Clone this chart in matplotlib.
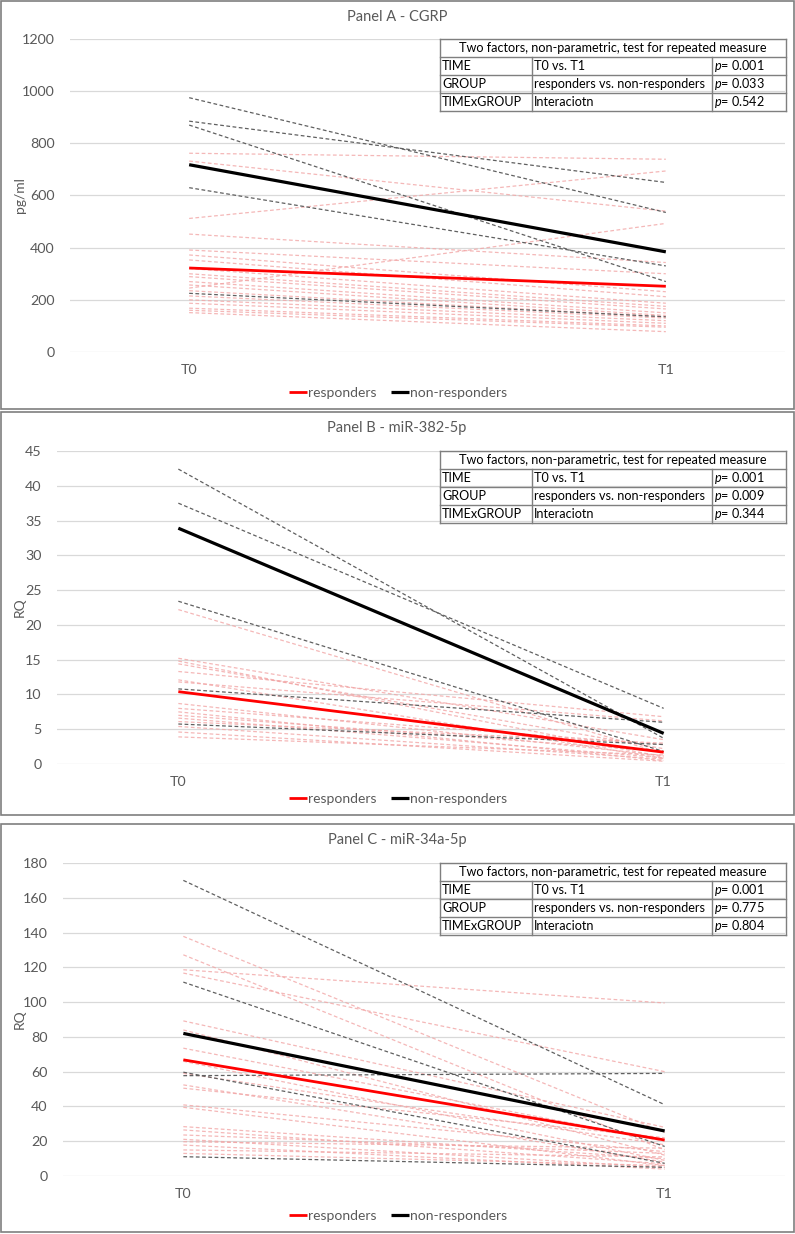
import matplotlib
matplotlib.use("Agg")
import matplotlib.pyplot as plt
from matplotlib.patches import Rectangle
from matplotlib.lines import Line2D

plt.rcParams['font.family'] = ['Lato', 'DejaVu Sans']
plt.rcParams['mathtext.fontset'] = 'custom'
plt.rcParams['mathtext.it'] = 'Lato:italic'
plt.rcParams['mathtext.rm'] = 'Lato'

W, H = 795, 1234
TIMES = ["T0", "T1"]

# ---- Panel A - CGRP (pg/ml)
a_resp_t0 = [762, 732, 512, 245, 452, 391, 372, 353, 320, 300, 289, 270, 257, 235, 215, 200, 187, 168, 160, 151]
a_resp_t1 = [739, 540, 694, 493, 343, 300, 231, 212, 187, 175, 165, 150, 140, 135, 130, 120, 110, 100, 95, 78]
a_non_t0 = [975, 885, 870, 630, 225]
a_non_t1 = [535, 650, 270, 330, 135]
a_resp_mean = [322, 252]
a_non_mean = [718, 384]
a_pvals = ["0.001", "0.033", "0.542"]

# ---- Panel B - miR-382-5p (RQ)
b_resp_t0 = [22.2, 15.2, 14.8, 14.4, 13.3, 12.1, 11.8, 8.7, 8.0, 7.5, 7.0, 6.6, 6.1, 5.4, 4.6, 3.9]
b_resp_t1 = [1.5, 3.5, 1.0, 2.2, 6.8, 0.8, 6.2, 1.2, 2.8, 0.5, 1.8, 0.9, 3.0, 0.7, 0.4, 1.3]
b_non_t0 = [42.4, 37.5, 23.4, 10.8, 5.75]
b_non_t1 = [3.7, 8.0, 1.8, 6.0, 2.8]
b_resp_mean = [10.4, 1.7]
b_non_mean = [33.9, 4.4]
b_pvals = ["0.001", "0.009", "0.344"]

# ---- Panel C - miR-34a-5p (RQ)
c_resp_t0 = [137.8, 127.2, 118.6, 116.7, 89.2, 84, 73.5, 66, 59, 52.4, 50.5, 40.9, 39.5,
             28.4, 26.5, 23.6, 21.1, 19.7, 17.8, 15, 13]
c_resp_t1 = [25, 15, 99.5, 60, 28, 12, 20, 9, 18, 8, 22, 14, 6, 10, 7, 13, 5, 16, 4, 11, 6]
c_non_t0 = [170, 111.5, 59.7, 57.7, 11.1]
c_non_t1 = [41, 17, 7.3, 59, 5]
c_resp_mean = [66.8, 20.7]
c_non_mean = [82, 25.9]
c_pvals = ["0.001", "0.775", "0.804"]

row_names = ["TIME", "GROUP", "TIMExGROUP"]
row_desc = ["T0 vs. T1", "responders vs. non-responders", "Interaciotn"]
header = "Two factors, non-parametric, test for repeated measure"

GRAY = "#595959"
TFS = 9.1  # table font size


def fx(x):
    return x / W


def fy(y):
    return 1 - y / H


def draw_table(fig, top, pvals, cols=(440, 532, 712, 786), rh=18):
    kw = dict(transform=fig.transFigure, color="#7f7f7f", lw=1)
    bottom = top + 4 * rh
    for i in range(5):
        fig.add_artist(Line2D([fx(cols[0]), fx(cols[-1])], [fy(top + i * rh)] * 2, **kw))
    fig.add_artist(Line2D([fx(cols[0])] * 2, [fy(top), fy(bottom)], **kw))
    fig.add_artist(Line2D([fx(cols[-1])] * 2, [fy(top), fy(bottom)], **kw))
    for c in cols[1:-1]:
        fig.add_artist(Line2D([fx(c)] * 2, [fy(top + rh), fy(bottom)], **kw))
    fig.text(fx((cols[0] + cols[-1]) / 2), fy(top + rh / 2), header,
             ha="center", va="center", fontsize=TFS, color="black")
    for i in range(3):
        yc = fy(top + rh * (i + 1.5))
        fig.text(fx(cols[0] + 2), yc, row_names[i], ha="left", va="center", fontsize=TFS)
        fig.text(fx(cols[1] + 2), yc, row_desc[i], ha="left", va="center", fontsize=TFS)
        fig.text(fx(cols[2] + 2), yc, "$p$= " + pvals[i], ha="left", va="center", fontsize=TFS)


def draw_panel(fig, box, ptop, pbot, title, ylabel, ymax, ystep,
               r0, r1, n0, n1, rmean, nmean, pvals):
    l, t, r, b = box
    ax = fig.add_axes([fx(l), fy(b), fx(r - l), (b - t) / H])
    for i in range(len(r0)):
        ax.plot([0, 1], [r0[i], r1[i]], color="#f2a6a6", lw=0.9, dashes=(3, 2), alpha=0.8)
    for i in range(len(n0)):
        ax.plot([0, 1], [n0[i], n1[i]], color="#606060", lw=0.9, dashes=(3, 2))
    ax.plot([0, 1], rmean, color="#ff0000", lw=2.0, label="responders", solid_capstyle="butt")
    ax.plot([0, 1], nmean, color="black", lw=2.3, label="non-responders", solid_capstyle="butt")
    ax.set_xlim(-0.25, 1.25)
    ax.set_ylim(0, ymax)
    ax.set_yticks(range(0, int(ymax) + 1, ystep))
    ax.set_xticks([0, 1])
    ax.set_xticklabels(TIMES)
    ax.grid(axis="y", color="#d9d9d9", lw=0.9)
    ax.set_axisbelow(True)
    for s in ax.spines.values():
        s.set_visible(False)
    ax.tick_params(length=0, labelsize=10.3, colors=GRAY, pad=11)
    ax.tick_params(axis="x", pad=9)
    ax.set_ylabel(ylabel, color=GRAY, fontsize=10)
    ax.yaxis.set_label_coords((26 - l) / (r - l), 0.5)
    fig.text(fx(397), fy(ptop + 16), title, ha="center", va="center", fontsize=10.5, color=GRAY)
    leg = fig.legend(*ax.get_legend_handles_labels(), loc="center", ncol=2, frameon=False,
                     bbox_to_anchor=(fx(398), fy(pbot - 16)), fontsize=10,
                     handlelength=1.3, handletextpad=0.1, columnspacing=1.0)
    for txt in leg.get_texts():
        txt.set_color(GRAY)
    fig.add_artist(Rectangle((fx(1), fy(pbot)), fx(793), (pbot - ptop) / H,
                             transform=fig.transFigure, fill=False, ec="#7f7f7f", lw=1.2))
    draw_table(fig, t, pvals)
    return ax


fig = plt.figure(figsize=(W / 100, H / 100), dpi=100)

draw_panel(fig, (70, 39, 785, 352), 1, 409, "Panel A - CGRP", "pg/ml", 1200, 200,
           a_resp_t0, a_resp_t1, a_non_t0, a_non_t1, a_resp_mean, a_non_mean, a_pvals)
draw_panel(fig, (57, 451, 785, 764), 412, 815, "Panel B - miR-382-5p", "RQ", 45, 5,
           b_resp_t0, b_resp_t1, b_non_t0, b_non_t1, b_resp_mean, b_non_mean, b_pvals)
draw_panel(fig, (63, 863, 785, 1176), 824, 1232, "Panel C - miR-34a-5p", "RQ", 180, 20,
           c_resp_t0, c_resp_t1, c_non_t0, c_non_t1, c_resp_mean, c_non_mean, c_pvals)

fig.savefig("out.png", dpi=100)
